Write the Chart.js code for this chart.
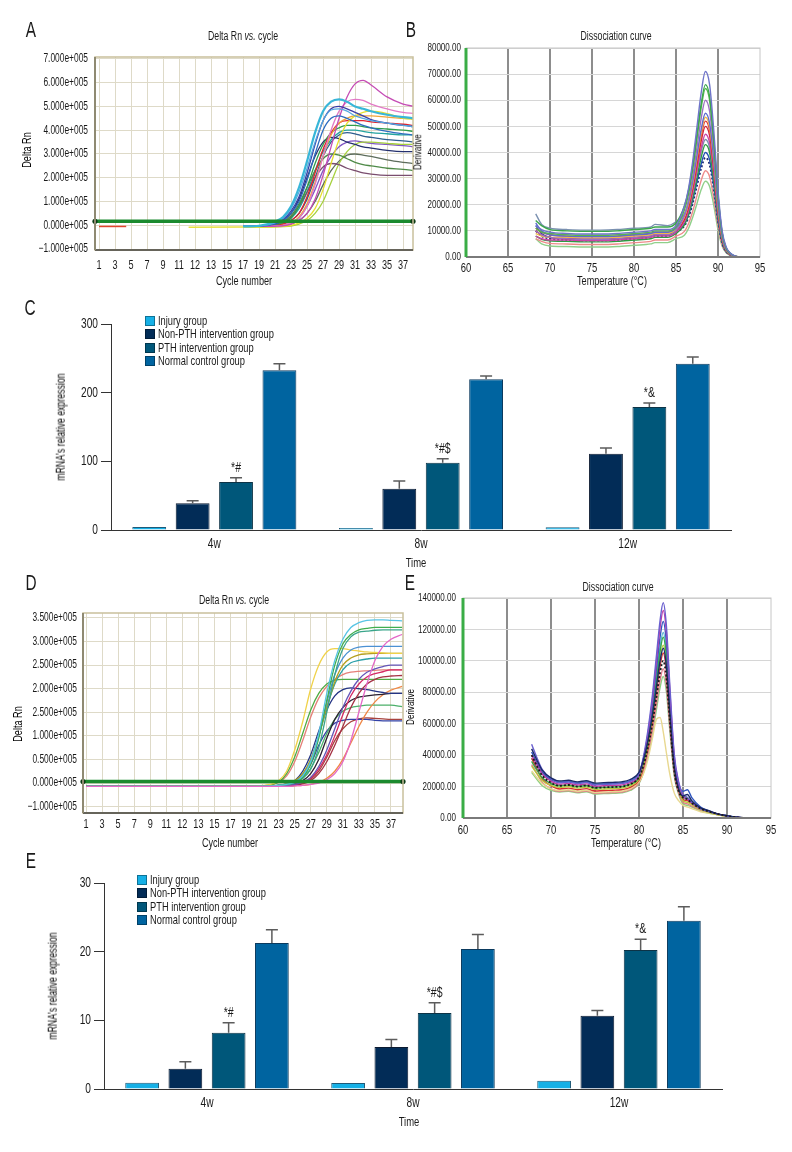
<!DOCTYPE html>
<html><head><meta charset="utf-8">
<script src="https://cdn.jsdelivr.net/npm/chart.js@4.4.0/dist/chart.umd.min.js"></script>
<style>
body{margin:0;background:#fff;}
#page{position:relative;width:792px;height:1152px;overflow:hidden;background:#fff;font-family:'Liberation Sans',Arial,sans-serif;color:#1a1a1a;}
.t{position:absolute;white-space:nowrap;line-height:1;transform:translate(-50%,-50%) scaleX(0.7);}
.r{color:#000;}
.lt{position:absolute;white-space:nowrap;line-height:1;transform-origin:0 50%;transform:translateY(-50%) scaleX(0.7);}
.lb{position:absolute;width:10px;height:10px;box-sizing:border-box;border:1px solid rgba(0,0,0,0.35);}
canvas{position:absolute;}
</style></head><body><div id="page"></div>
<script>
// ================= DATA =================
// Amplification plots: x axis tick labels (as printed) and positions
const cycleLabels = ['1','3','5','7','9','11','12','13','15','17','19','21','23','25','27','29','31','33','35','37'];
const ampAYTicks = [-1,0,1,2,3,4,5,6,7];
const ampAYLabels = ['\u22121.000e+005','0.000e+005','1.000e+005','2.000e+005','3.000e+005','4.000e+005','5.000e+005','6.000e+005','7.000e+005'];
const ampDYTicks = [-0.5,0,0.5,1,1.5,2,2.5,3,3.5];
const ampDYLabels = ['\u22121.000e+005','0.000e+005','0.500e+005','1.000e+005','2.500e+005','2.000e+005','2.500e+005','3.000e+005','3.500e+005'];
const ampAThreshold = 0.17;
const ampDThreshold = 0.03;

// Panel A curves (Delta Rn, x1e5), sampled at tick-position ampAX
const ampAX = [9, 10, 11, 11.5, 12, 12.5, 13, 13.5, 14, 14.5, 15, 15.5, 16, 16.5, 17, 18, 19, 19.7];
const ampACurves = [
  [-0.05,-0.02,0.15,0.35,0.8,1.6,2.7,3.9,4.8,5.2,5.3,5.2,5.0,4.9,4.8,4.65,4.55,4.5],
  [-0.05,-0.03,0.1,0.3,0.7,1.4,2.4,3.5,4.4,4.85,4.9,4.8,4.6,4.5,4.4,4.3,4.2,4.15],
  [-0.05,-0.03,0.08,0.25,0.6,1.2,2.2,3.4,4.4,4.9,5.0,4.9,4.75,4.6,4.45,4.3,4.2,4.15],
  [-0.05,-0.03,0.05,0.2,0.5,1.0,1.9,3.0,4.0,4.5,4.6,4.5,4.35,4.2,4.1,3.95,3.85,3.8],
  [-0.05,-0.05,-0.04,-0.02,0.05,0.2,0.5,1.1,2.1,3.3,4.5,5.4,5.95,6.1,5.9,5.4,5.1,5.0],
  [-0.05,-0.05,-0.03,0,0.1,0.3,0.8,1.7,2.9,4.0,4.8,5.2,5.3,5.25,5.1,4.9,4.75,4.7],
  [-0.08,-0.08,-0.07,-0.05,0,0.1,0.3,0.7,1.5,2.6,3.6,4.3,4.6,4.75,4.8,4.7,4.5,4.45],
  [-0.05,-0.05,-0.03,0,0.1,0.35,0.9,1.8,2.9,3.8,4.3,4.5,4.6,4.6,4.6,4.55,4.5,4.5],
  [-0.05,-0.04,-0.02,0.05,0.2,0.5,1.2,2.2,3.2,3.9,4.3,4.4,4.4,4.4,4.35,4.3,4.25,4.2],
  [-0.05,-0.04,0,0.1,0.3,0.8,1.6,2.6,3.4,3.9,4.1,4.2,4.2,4.15,4.1,4.05,4.0,3.95],
  [-0.05,-0.03,0.05,0.2,0.5,1.1,2.0,2.9,3.5,3.7,3.65,3.5,3.4,3.3,3.25,3.15,3.1,3.1],
  [-0.05,-0.03,0.05,0.15,0.4,0.9,1.6,2.3,2.8,3.0,2.95,2.8,2.65,2.55,2.5,2.4,2.35,2.3],
  [-0.05,-0.03,0.05,0.15,0.35,0.8,1.4,2.0,2.45,2.6,2.55,2.4,2.3,2.2,2.15,2.1,2.1,2.1],
  [-0.08,-0.08,-0.07,-0.06,-0.03,0.05,0.2,0.5,1.0,1.8,2.6,3.1,3.4,3.5,3.5,3.45,3.4,3.4],
  [-0.05,-0.05,-0.04,-0.02,0.05,0.2,0.5,1.0,1.7,2.3,2.7,2.95,3.0,2.95,2.9,2.75,2.65,2.6],
  [-0.05,-0.04,0,0.1,0.3,0.7,1.4,2.3,3.1,3.6,3.9,4.0,4.0,3.95,3.9,3.85,3.8,3.8],
  [-0.05,-0.05,-0.03,0,0.1,0.3,0.8,1.5,2.3,2.9,3.3,3.5,3.55,3.5,3.45,3.4,3.35,3.3],
  [-0.05,-0.04,-0.01,0.06,0.2,0.5,1.1,2.0,2.9,3.5,3.8,3.9,3.85,3.75,3.7,3.6,3.55,3.5]
];
const ampAColors = ['#38b6d8','#55a8e0','#3a3fa8','#2d6cc0','#c54cb5','#e27ac6','#e6df2e','#f0a43a','#e0252e','#2f9e4e','#25306e','#4f8a48','#7a4d6e','#a6d13e','#5d6d5c','#23a3a0','#8158c4','#2f5f8f'];
// short early baseline traces in panel A
const ampAEarlyX = [[0, 1.7], [5.6, 9]];
const ampAEarlyY = [[-0.05, -0.05], [-0.08, -0.07]];
const ampAEarlyColors = ['#e0452e', '#e8e040'];

// Panel D curves (axis units, x1e5 as printed)
const ampDX = [0, 10.5, 11.5, 12, 12.5, 13, 13.5, 14, 14.5, 15, 15.5, 16, 16.5, 17, 17.5, 18, 18.5, 19, 19.7];
const ampDCurves = [
  [-0.07,-0.07,-0.07,-0.07,-0.07,-0.06,-0.05,-0.03,0,0.07,0.2,0.45,0.9,1.5,2.1,2.6,2.9,3.05,3.15],
  [-0.07,-0.07,-0.06,-0.05,-0.03,0.02,0.15,0.45,1.05,1.9,2.6,3.05,3.3,3.4,3.45,3.46,3.46,3.45,3.44],
  [-0.07,-0.07,-0.06,-0.05,-0.03,0.02,0.12,0.4,0.95,1.75,2.5,2.95,3.15,3.25,3.28,3.3,3.3,3.3,3.3],
  [-0.07,-0.07,-0.06,-0.05,-0.04,0,0.1,0.3,0.75,1.5,2.3,2.85,3.1,3.2,3.22,3.24,3.25,3.25,3.25],
  [-0.07,-0.07,-0.06,-0.05,-0.03,0.02,0.15,0.45,1.0,1.7,2.3,2.65,2.82,2.88,2.9,2.9,2.9,2.9,2.9],
  [-0.07,-0.06,-0.03,0.05,0.25,0.7,1.3,2.0,2.5,2.78,2.85,2.85,2.82,2.8,2.78,2.77,2.76,2.75,2.75],
  [-0.07,-0.07,-0.06,-0.05,-0.02,0.05,0.2,0.5,1.0,1.6,2.15,2.5,2.65,2.72,2.74,2.75,2.75,2.75,2.75],
  [-0.07,-0.07,-0.06,-0.05,-0.02,0.04,0.18,0.5,1.0,1.6,2.1,2.4,2.55,2.6,2.63,2.65,2.65,2.65,2.65],
  [-0.07,-0.07,-0.07,-0.06,-0.05,-0.03,0.02,0.12,0.35,0.7,1.15,1.6,1.95,2.2,2.35,2.42,2.47,2.5,2.5],
  [-0.07,-0.07,-0.07,-0.06,-0.05,-0.03,0.02,0.1,0.3,0.6,1.0,1.45,1.85,2.1,2.25,2.32,2.36,2.4,2.4],
  [-0.07,-0.07,-0.07,-0.07,-0.06,-0.05,-0.02,0.05,0.2,0.45,0.8,1.2,1.6,1.9,2.1,2.2,2.25,2.27,2.28],
  [-0.07,-0.06,-0.04,0.02,0.2,0.55,1.05,1.55,1.9,2.1,2.18,2.2,2.2,2.2,2.2,2.2,2.2,2.2,2.2],
  [-0.07,-0.07,-0.06,-0.05,-0.02,0.05,0.25,0.6,1.1,1.55,1.85,1.98,2.02,2.0,1.98,1.95,1.92,1.9,1.9],
  [-0.07,-0.07,-0.07,-0.06,-0.05,-0.02,0.05,0.2,0.5,0.95,1.35,1.6,1.75,1.82,1.85,1.87,1.88,1.9,1.9],
  [-0.07,-0.07,-0.07,-0.07,-0.07,-0.06,-0.05,-0.03,0.02,0.1,0.25,0.5,0.85,1.2,1.5,1.72,1.87,1.97,2.05],
  [-0.07,-0.07,-0.07,-0.06,-0.04,0,0.1,0.3,0.65,1.05,1.35,1.52,1.6,1.63,1.65,1.65,1.65,1.65,1.62],
  [-0.07,-0.07,-0.06,-0.05,-0.03,0.03,0.15,0.4,0.8,1.1,1.27,1.33,1.35,1.35,1.35,1.33,1.32,1.32,1.32],
  [-0.07,-0.07,-0.07,-0.07,-0.06,-0.04,0,0.08,0.25,0.55,0.9,1.15,1.3,1.36,1.38,1.37,1.36,1.35,1.35],
  [-0.07,-0.06,-0.04,0.01,0.15,0.45,0.9,1.4,1.8,2.05,2.2,2.3,2.35,2.37,2.38,2.39,2.4,2.4,2.4]
];
const ampDColors = ['#e467c8','#58c4e4','#3fae4f','#3aa58a','#4b91d3','#f0d24a','#b59f1f','#2ba0a8','#6455b8','#d42a64','#a53244','#4fab44','#243484','#2a2030','#ef8746','#4cb06a','#3342a6','#a8433e','#e58078'];

// Panel B dissociation (derivative, thousands) vs temperature
const dissBX = [68.3, 69, 70, 72, 74, 76, 78, 80, 82, 82.5, 84, 85, 86, 86.5, 87, 87.5, 88, 88.5, 89, 89.5, 90, 90.5, 91, 91.5, 92, 92.5];
const dissBCurves = [
  [12, 10.5, 9.5, 9, 8.8, 8.8, 9, 9.5, 10, 10.5, 10.5, 12, 19.5, 26.4, 36.9, 49.9, 62.9, 71, 66, 48.3, 25.6, 9.9, 3.6, 1.4, 0.4, 0],
  [14, 12, 10.5, 10, 9.8, 9.8, 10, 10.5, 11, 11.5, 11.5, 13, 19.5, 25.7, 35.2, 47, 58.7, 66, 61.4, 44.9, 23.8, 9.2, 3.3, 1.3, 0.3, 0],
  [11, 9.5, 9, 8.5, 8.3, 8.3, 8.5, 9, 9.5, 10, 10, 11.5, 18, 24.2, 33.7, 45.5, 57.2, 64.5, 60, 43.9, 23.2, 9, 3.2, 1.3, 0.3, 0],
  [10, 8.5, 7.5, 7, 6.8, 6.8, 7, 7.5, 8, 8.5, 8.5, 10, 16, 21.8, 30.9, 42, 53.1, 60, 55.8, 40.8, 21.6, 8.4, 3, 1.2, 0.3, 0],
  [13, 10, 8.5, 8, 7.8, 7.8, 8, 8.5, 9, 9.5, 9.5, 11, 16, 21.2, 29.2, 39, 48.9, 55, 51.2, 37.4, 19.8, 7.7, 2.8, 1.1, 0.3, 0],
  [9, 8, 7.5, 7.5, 7.3, 7.3, 7.5, 8, 8.5, 9, 9, 10.5, 15.3, 20.4, 28.2, 37.9, 47.5, 53.5, 49.8, 36.4, 19.3, 7.5, 2.7, 1.1, 0.3, 0],
  [11, 9.5, 8.5, 8, 7.8, 7.8, 8, 8.5, 9, 9.5, 9.5, 11, 15.5, 20.3, 27.8, 37, 46.3, 52, 48.4, 35.4, 18.7, 7.3, 2.6, 1, 0.3, 0],
  [10, 8.5, 7.5, 7, 6.8, 6.8, 7, 7.5, 8, 8.5, 8.5, 10, 14.3, 19, 26.4, 35.4, 44.4, 50, 46.5, 34, 18, 7, 2.5, 1, 0.25, 0],
  [8, 7, 6.5, 6.5, 6.3, 6.3, 6.5, 7, 7.5, 8, 8, 9.5, 13.4, 17.8, 24.7, 33.2, 41.7, 47, 43.7, 32, 16.9, 6.6, 2.4, 0.9, 0.2, 0],
  [8, 6.8, 6.2, 6, 5.8, 5.8, 6, 6.5, 7, 7.5, 7.5, 9, 12.3, 16.4, 22.7, 30.4, 38.2, 43, 40, 29.2, 15.5, 6, 2.2, 0.9, 0.2, 0],
  [12, 9, 7.5, 7, 6.8, 6.8, 7, 7.5, 8, 8.5, 8.5, 10, 12.6, 16.2, 21.9, 28.8, 35.7, 40, 37.2, 27.2, 14.4, 5.6, 2, 0.8, 0.2, 0],
  [10, 8, 7, 6.5, 6.3, 6.3, 6.5, 7, 7.5, 8, 8, 9.5, 11.9, 15.3, 20.7, 27.3, 33.9, 38, 35.3, 25.8, 13.7, 5.3, 1.9, 0.8, 0.2, 0],
  [7, 6, 5.2, 5, 4.8, 4.8, 5, 5.5, 6, 6.5, 6.5, 8, 9.8, 12.8, 17.6, 23.5, 29.4, 33, 30.7, 22.4, 11.9, 4.6, 1.7, 0.7, 0.2, 0],
  [7, 5, 4.2, 4, 3.8, 3.8, 4, 4.5, 5, 5.5, 5.5, 7, 8.3, 11, 15.3, 20.5, 25.8, 29, 27, 19.7, 10.4, 4.1, 1.5, 0.6, 0.1, 0],
  [16.5, 12.5, 11, 10.5, 10.3, 10.3, 10.5, 11, 11.5, 12.5, 12, 13.5, 16.4, 20.2, 26, 33.3, 40.5, 45, 41.9, 30.6, 16.2, 6.3, 2.3, 0.9, 0.2, 0]
];
const dissBColors = ['#6f74c9','#3aa64a','#56b54e','#9b6fc0','#5d6bd0','#f1b84a','#e23a3a','#d0243a','#c845a8','#2f9a40','#2451b5','#1e2a70','#ee8a8a','#8fd08a','#7a90b0'];

// Panel E dissociation (derivative, thousands) vs temperature
const dissEX = [67.8, 68.5, 69, 70, 71, 72, 73, 74, 75, 76, 77, 78, 79, 80, 80.5, 81, 81.5, 82, 82.4, 82.75, 83.1, 83.5, 84, 84.5, 85, 85.5, 86, 87, 88, 89, 90, 91, 92];
const dissECurves = [
  [40, 32, 27, 22.4, 20.5, 21, 20, 20.7, 19.2, 19.5, 19.7, 20, 21.5, 26, 33.4, 44.5, 59.3, 77.8, 92.6, 100, 90, 62, 30, 17, 13, 12, 9.5, 6, 4, 2.5, 1.3, 0.5, 0],
  [44, 35.6, 30.4, 25.5, 23.5, 24, 23, 23.7, 22.2, 22.5, 22.7, 23, 24.5, 29, 36.9, 48.8, 64.6, 84.3, 100.1, 108, 97.2, 67, 32.4, 18.4, 14, 15, 11, 6.5, 4.5, 2.5, 1.5, 0.6, 0],
  [47, 37, 31, 25, 22.5, 23, 22, 22.7, 21.2, 21.5, 21.7, 22, 23.5, 28, 38.9, 55.3, 77, 104.3, 126, 137, 123.3, 85, 41, 23.3, 15, 13, 10, 6, 4, 2.5, 1.3, 0.5, 0],
  [40, 33, 28, 23.5, 21.5, 22, 21, 21.7, 20.2, 20.5, 20.7, 21, 22.5, 27, 37.5, 53.3, 74.3, 100.5, 121.5, 132, 118.8, 81.8, 39.6, 22.4, 14, 12, 9.5, 6, 4, 2.5, 1.3, 0.5, 0],
  [42, 34, 29, 24.5, 22.5, 23, 22, 22.7, 21.2, 21.5, 21.7, 22, 23.5, 28, 37.7, 52.3, 71.7, 95.9, 115.3, 125, 112.5, 77.5, 37.5, 21.3, 17, 18, 13, 7, 4.5, 2.5, 1.5, 0.6, 0],
  [36, 29.6, 25.6, 21.9, 20.5, 21, 20, 20.7, 19.2, 19.5, 19.7, 20, 21.5, 26, 34.9, 48.3, 66.1, 88.3, 106.1, 115, 103.5, 71.3, 34.5, 19.6, 14, 13, 10, 6, 4, 2.5, 1.3, 0.5, 0],
  [33, 27.4, 23.9, 20.7, 19.5, 20, 19, 19.7, 18.2, 18.5, 18.7, 19, 20.5, 25, 33.5, 46.3, 63.3, 84.5, 101.5, 110, 99, 68.2, 33, 18.7, 11, 10, 8.5, 5.5, 3.5, 2, 1, 0.4, 0],
  [38, 30, 25, 20.4, 18.5, 19, 18, 18.7, 17.2, 17.5, 17.7, 18, 19.5, 24, 32.1, 44.3, 60.5, 80.7, 96.9, 105, 94.5, 65.1, 31.5, 17.9, 12, 11, 9, 6, 4, 2.5, 1.3, 0.5, 0],
  [30, 25, 22, 18.5, 17.5, 18, 17, 17.7, 16.2, 16.5, 16.7, 17, 18.5, 23, 28, 37, 50, 63, 64, 55, 42, 28, 16, 11, 8, 7, 6, 4, 3, 2, 1, 0.4, 0],
  [34, 27.5, 22.6, 18.6, 17, 17.5, 16.5, 17.2, 15.7, 16, 16.2, 16.5, 18, 22.5, 29.8, 40.6, 55.1, 73.3, 87.8, 95, 85.5, 58.9, 28.5, 16.2, 10, 9, 7.5, 5, 3.5, 2, 1, 0.4, 0],
  [38, 31.8, 27.9, 24.4, 23, 23.5, 22.5, 23.2, 21.7, 22, 22.2, 22.5, 24, 28.5, 37.5, 50.9, 68.8, 91.2, 109.1, 118, 106.2, 73.2, 35.4, 20.1, 13, 12, 9.5, 6, 4, 2.5, 1.3, 0.5, 0],
  [29, 23.8, 20.5, 17.6, 16.5, 17, 16, 16.7, 15.2, 15.5, 15.7, 16, 17.5, 22, 28.8, 39, 52.6, 69.6, 83.2, 90, 81, 55.8, 27, 15.3, 9, 8, 7, 4.5, 3, 2, 1, 0.4, 0]
];
const dissEColors = ['#1c1c1c','#1a2a6a','#6a5fcf','#c03ca8','#2f56c0','#3aa84a','#b8c83a','#d83030','#e8d890','#e07a8a','#5ab8d0','#8fd080'];

// Bar charts
const timePoints = ['4w','8w','12w'];
const groupNames = ['Injury group','Non-PTH intervention group','PTH intervention group','Normal control group'];
const groupColors = ['#16b0e6','#022c57','#00577a','#0064a0'];
const groupBorders = ['#1f5a78','#0b1a30','#0d3346','#0b3a5e'];
// Panel C
const cInjury = [4.4, 2.9, 3.9];
const cNonPTH = [38.8, 60.2, 111];
const cPTH = [69.9, 98, 179];
const cNormal = [232.5, 219.4, 242.2];
const cInjuryErr = [0, 0, 0];
const cNonPTHErr = [3.9, 11.2, 8.4];
const cPTHErr = [6.3, 5.9, 6];
const cNormalErr = [9.5, 4.9, 9.8];
const cPTHNotes = ['*#','*#$','*&'];
// Panel E (bars)
const fInjury = [0.92, 0.87, 1.2];
const fNonPTH = [2.96, 6.1, 10.65];
const fPTH = [8.2, 11.07, 20.25];
const fNormal = [21.26, 20.4, 24.5];
const fInjuryErr = [0, 0, 0];
const fNonPTHErr = [1.02, 1.1, 0.8];
const fPTHErr = [1.46, 1.5, 1.55];
const fNormalErr = [1.94, 2.1, 2.05];
const fPTHNotes = ['*#','*#$','*&'];

// ================= RENDERING =================
const FONT = "'Liberation Sans',Arial,sans-serif";
const CONDENSE = 0.7;
Chart.defaults.font.family = FONT;
Chart.defaults.color = '#1a1a1a';
const page = document.getElementById('page');

function makeCanvas(b){
  const c=document.createElement('canvas');
  c.width=b.w; c.height=b.h;
  c.style.left=b.x+'px'; c.style.top=b.y+'px'; c.style.width=b.w+'px'; c.style.height=b.h+'px';
  page.appendChild(c);
  // condensed text rendering (the figure uses a condensed typeface)
  const ctx=c.getContext('2d');
  const of=ctx.fillText.bind(ctx), om=ctx.measureText.bind(ctx);
  ctx.fillText=function(t,x,y,mw){
    ctx.save(); ctx.translate(x,y); ctx.scale(CONDENSE,1);
    if(mw===undefined||mw===null) of(t,0,0); else of(t,0,0,mw/CONDENSE);
    ctx.restore();
  };
  ctx.measureText=function(t){
    const m=om(t);
    return {width:m.width*CONDENSE,actualBoundingBoxAscent:m.actualBoundingBoxAscent,actualBoundingBoxDescent:m.actualBoundingBoxDescent,
      actualBoundingBoxLeft:m.actualBoundingBoxLeft*CONDENSE,actualBoundingBoxRight:m.actualBoundingBoxRight*CONDENSE,
      fontBoundingBoxAscent:m.fontBoundingBoxAscent,fontBoundingBoxDescent:m.fontBoundingBoxDescent};
  };
  return c;
}
function txt(s,x,y,size,o){
  o=o||{};
  const d=document.createElement('div'); d.className='t'; d.innerHTML=s;
  d.style.left=x+'px'; d.style.top=y+'px'; d.style.fontSize=size+'px';
  if(o.rot){ d.classList.add('r'); d.style.transform='translate(-50%,-50%) rotate(-90deg) scaleX('+CONDENSE+')'; }
  page.appendChild(d);
}
function legend(boxX,textX,y0,dy){
  groupNames.forEach((n,i)=>{
    const b=document.createElement('div'); b.className='lb';
    b.style.left=boxX+'px'; b.style.top=(y0+i*dy-5)+'px'; b.style.background=groupColors[i];
    page.appendChild(b);
    const t=document.createElement('div'); t.className='lt'; t.textContent=n;
    t.style.left=textX+'px'; t.style.top=(y0+i*dy)+'px'; t.style.fontSize='13.3px';
    page.appendChild(t);
  });
}

const framePlugin = {
  id:'frame',
  afterDatasetsDraw(chart,args,o){
    const {left,top,right,bottom}=chart.chartArea; const c=chart.ctx; c.save();
    c.strokeStyle=o.box; c.lineWidth=o.boxW;
    c.strokeRect(left,top,right-left,bottom-top);
    c.strokeStyle=o.bottom; c.lineWidth=o.bottomW;
    c.beginPath(); c.moveTo(left,bottom); c.lineTo(right,bottom); c.stroke();
    c.strokeStyle=o.left; c.lineWidth=o.leftW;
    c.beginPath(); c.moveTo(left,top); c.lineTo(left,bottom); c.stroke();
    c.restore();
  }
};

const errPlugin = {
  id:'errbars',
  afterDatasetsDraw(chart){
    const ctx=chart.ctx, ys=chart.scales.y;
    chart.data.datasets.forEach((ds,i)=>{
      const meta=chart.getDatasetMeta(i);
      meta.data.forEach((bar,j)=>{
        const e=ds.errUp[j]; const v=ds.data[j];
        const yTop=ys.getPixelForValue(v+e);
        ctx.save();
        if(e>0){
          ctx.strokeStyle='#5c5c5c'; ctx.lineWidth=1.5;
          ctx.beginPath(); ctx.moveTo(bar.x,bar.y); ctx.lineTo(bar.x,yTop);
          ctx.moveTo(bar.x-6,yTop); ctx.lineTo(bar.x+6,yTop); ctx.stroke();
        }
        if(ds.notes && ds.notes[j]){
          ctx.fillStyle='#1a1a1a'; ctx.font='15px '+FONT; ctx.textAlign='center'; ctx.textBaseline='middle';
          ctx.fillText(ds.notes[j], bar.x, yTop-10);
        }
        ctx.restore();
      });
    });
  }
};

function buildAmp(cfg){
  const cv=makeCanvas(cfg.box);
  const datasets=[];
  datasets.push({data:[{x:cfg.xMin,y:cfg.thr},{x:cfg.xMax,y:cfg.thr}], borderColor:'#1b8a2e', borderWidth:3.5,
    pointRadius:2.6, pointBackgroundColor:'#0d3a14', pointBorderWidth:0, clip:false});
  cfg.curves.forEach((vals,i)=>{
    datasets.push({data:cfg.xs.map((x,j)=>({x:x,y:vals[j]})), borderColor:cfg.colors[i],
      borderWidth:(i===cfg.thick?2.2:1.3), pointRadius:0, cubicInterpolationMode:'monotone', fill:false});
  });
  (cfg.extraX||[]).forEach((xs,i)=>{
    datasets.push({data:xs.map((x,j)=>({x:x,y:cfg.extraY[i][j]})), borderColor:cfg.extraColors[i], borderWidth:1.5, pointRadius:0});
  });
  new Chart(cv,{type:'line',data:{datasets},
    options:{responsive:false,animation:false,events:[],devicePixelRatio:1,
      layout:{padding:cfg.pad},
      plugins:{legend:{display:false},tooltip:{enabled:false},
        frame:{box:'#c9c09c',boxW:1.5,left:'#8f8a72',leftW:2,bottom:'#66645a',bottomW:2}},
      scales:{
        x:{type:'linear',min:cfg.xMin,max:cfg.xMax,
          afterBuildTicks:s=>{s.ticks=cycleLabels.map((l,i)=>({value:i}));},
          ticks:{autoSkip:false,maxRotation:0,minRotation:0,padding:cfg.xPad,font:{size:13},color:'#1a1a1a',
            callback:v=>cycleLabels[Math.round(v)]},
          grid:{color:'#dedac8',lineWidth:1,drawTicks:false},border:{display:false},
          afterFit:s=>{s.height=cfg.xH;}},
        y:{type:'linear',min:cfg.yMin,max:cfg.yMax,
          afterBuildTicks:s=>{s.ticks=cfg.yTicks.map(v=>({value:v}));},
          ticks:{padding:cfg.yPad,font:{size:12},color:'#1a1a1a',
            callback:v=>cfg.yLabels[cfg.yTicks.indexOf(v)]},
          grid:{color:'#dedac8',lineWidth:1,drawTicks:false},border:{display:false},
          afterFit:s=>{s.width=cfg.yW;}}
      }},
    plugins:[framePlugin]});
}

function buildDiss(cfg){
  const cv=makeCanvas(cfg.box);
  const datasets=cfg.curves.map((vals,i)=>({
    data:cfg.xs.map((x,j)=>({x:x,y:vals[j]*1000})), borderColor:cfg.colors[i],
    borderWidth:(i===cfg.dotted?1.8:1.4), borderDash:(i===cfg.dotted?[2,2]:[]),
    pointRadius:0, cubicInterpolationMode:'monotone', fill:false}));
  new Chart(cv,{type:'line',data:{datasets},
    options:{responsive:false,animation:false,events:[],devicePixelRatio:1,
      layout:{padding:cfg.pad},
      plugins:{legend:{display:false},tooltip:{enabled:false},
        frame:{box:'#c6c6c6',boxW:1,left:'#3aad46',leftW:3,bottom:'#7a7a7a',bottomW:2}},
      scales:{
        x:{type:'linear',min:60,max:95,
          ticks:{stepSize:5,autoSkip:false,maxRotation:0,padding:cfg.xPad,font:{size:13.5},color:'#1a1a1a'},
          grid:{color:c=>(c.tick&&(c.tick.value===60||c.tick.value===95))?'rgba(0,0,0,0)':'#8d8d8d',lineWidth:2,drawTicks:false},
          border:{display:false},afterFit:s=>{s.height=cfg.xH;}},
        y:{type:'linear',min:0,max:cfg.yMax,
          ticks:{stepSize:cfg.yStep,padding:cfg.yPad,font:{size:11.5},color:'#1a1a1a',callback:v=>v.toFixed(2)},
          grid:{color:'#d6d6d6',lineWidth:1,drawTicks:false},border:{display:false},
          afterFit:s=>{s.width=cfg.yW;}}
      }},
    plugins:[framePlugin]});
}

function buildBars(cfg){
  const cv=makeCanvas(cfg.box);
  const datasets=cfg.series.map((vals,i)=>({label:groupNames[i],data:vals,backgroundColor:groupColors[i],
    borderColor:groupBorders[i],borderWidth:1,categoryPercentage:0.84,barPercentage:0.78,
    errUp:cfg.errs[i],notes:cfg.notes[i]}));
  new Chart(cv,{type:'bar',data:{labels:timePoints,datasets},
    options:{responsive:false,animation:false,events:[],devicePixelRatio:1,
      layout:{padding:cfg.pad},
      plugins:{legend:{display:false},tooltip:{enabled:false}},
      scales:{
        x:{grid:{display:false,drawTicks:false},border:{display:true,color:'#333',width:1},
          ticks:{font:{size:14.5},padding:5,color:'#1a1a1a'},afterFit:s=>{s.height=cfg.xH;}},
        y:{min:0,max:cfg.yMax,ticks:{stepSize:cfg.yStep,font:{size:14.5},padding:3,color:'#1a1a1a'},
          grid:{drawOnChartArea:false,drawTicks:true,tickLength:10,color:'#333',lineWidth:1},
          border:{display:true,color:'#333',width:1},afterFit:s=>{s.width=cfg.yW;}}
      }},
    plugins:[errPlugin]});
}

// Panel A
buildAmp({box:{x:0,y:0,w:430,h:290},pad:{left:0,top:57,right:17,bottom:0},yW:95,xH:40,
  xMin:-0.25,xMax:19.62,yMin:-1.04,yMax:7.08,yTicks:ampAYTicks,yLabels:ampAYLabels,
  xs:ampAX,curves:ampACurves,colors:ampAColors,thick:0,thr:ampAThreshold,xPad:8,yPad:7,
  extraX:ampAEarlyX,extraY:ampAEarlyY,extraColors:ampAEarlyColors});
// Panel B
buildDiss({box:{x:400,y:0,w:392,h:290},pad:{left:0,top:48,right:32,bottom:0},yW:66,xH:33,
  yMax:80000,yStep:10000,xs:dissBX,curves:dissBCurves,colors:dissBColors,dotted:11,xPad:3,yPad:5});
// Panel C
buildBars({box:{x:0,y:290,w:792,h:285},pad:{left:0,top:34,right:61,bottom:0},yW:111,xH:45,
  yMax:300,yStep:100,series:[cInjury,cNonPTH,cPTH,cNormal],errs:[cInjuryErr,cNonPTHErr,cPTHErr,cNormalErr],
  notes:[null,null,cPTHNotes,null]});
// Panel D
buildAmp({box:{x:0,y:575,w:430,h:285},pad:{left:0,top:38,right:27,bottom:0},yW:83,xH:47,
  xMin:-0.19,xMax:19.75,yMin:-0.636,yMax:3.606,yTicks:ampDYTicks,yLabels:ampDYLabels,
  xs:ampDX,curves:ampDCurves,colors:ampDColors,thick:-1,thr:ampDThreshold,xPad:4,yPad:6});
// Panel E (dissociation)
buildDiss({box:{x:400,y:575,w:392,h:285},pad:{left:0,top:23,right:21,bottom:0},yW:63,xH:42,
  yMax:140000,yStep:20000,xs:dissEX,curves:dissECurves,colors:dissEColors,dotted:0,xPad:4,yPad:7});
// Panel E (bars)
buildBars({box:{x:0,y:860,w:792,h:292},pad:{left:0,top:23,right:70,bottom:0},yW:104,xH:63,
  yMax:30,yStep:10,series:[fInjury,fNonPTH,fPTH,fNormal],errs:[fInjuryErr,fNonPTHErr,fPTHErr,fNormalErr],
  notes:[null,null,fPTHNotes,null]});

// Text: panel letters, titles, axis titles
txt('A',31,30,22); txt('B',411,30,22); txt('C',30,308,22); txt('D',31,583,22); txt('E',410,583,22); txt('E',31,861,22);
txt('Delta Rn <i>vs.</i> cycle',243,36,12.5);
txt('Dissociation curve',616,36,12.5);
txt('Delta Rn <i>vs.</i> cycle',234,600,12.5);
txt('Dissociation curve',618,587,12.5);
txt('Delta Rn',26,150,13,{rot:true});
txt('Cycle number',244,280,13);
txt('Derivative',418,152,11.5,{rot:true});
txt('Temperature (\u00B0C)',612,280,13);
txt('Delta Rn',17,724,13,{rot:true});
txt('Cycle number',230,842,13);
txt('Derivative',411,707,11.5,{rot:true});
txt('Temperature (\u00B0C)',626,842,13);
txt("mRNA's relative expression",61,427,12.5,{rot:true});
txt('Time',416,563,13.5);
txt("mRNA's relative expression",53,986,12.5,{rot:true});
txt('Time',409,1122,13.5);
legend(145,158,321,13.3);
legend(137,150,880,13.3);
</script>
</body></html>
